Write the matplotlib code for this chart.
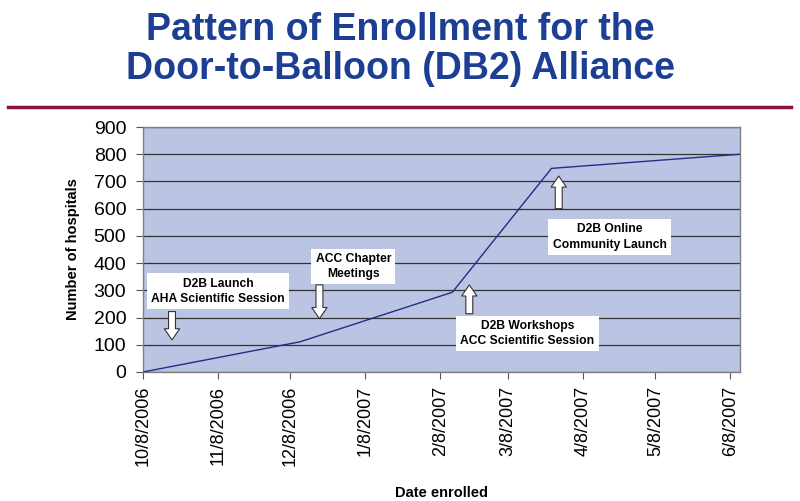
import datetime as dt

import matplotlib
matplotlib.use("Agg")
import matplotlib.pyplot as plt
import matplotlib.dates as mdates
from matplotlib.lines import Line2D
from matplotlib.patches import FancyArrowPatch

# ---------- data ----------
enroll_dates = ["2006-10-08", "2006-12-12", "2007-02-13", "2007-03-26", "2007-06-12"]
hospitals = [0, 111, 293, 748, 800]

tick_dates = ["2006-10-08", "2006-11-08", "2006-12-08", "2007-01-08", "2007-02-08",
              "2007-03-08", "2007-04-08", "2007-05-08", "2007-06-08"]
y_ticks = [0, 100, 200, 300, 400, 500, 600, 700, 800, 900]

# (label, box date, box value, arrow date, arrow tail value, arrow tip value)
events = [
    ("D2B Launch\nAHA Scientific Session", "2006-11-08", 297, "2006-10-20", 222, 118),
    ("ACC Chapter\nMeetings", "2007-01-03", 388, "2006-12-20", 320, 196),
    ("D2B Workshops\nACC Scientific Session", "2007-03-16", 141, "2007-02-20", 214, 320),
    ("D2B Online\nCommunity Launch", "2007-04-19", 496, "2007-03-29", 600, 720),
]

def _d(s):
    return dt.datetime.strptime(s, "%Y-%m-%d")

# ---------- figure ----------
plt.rcParams["font.family"] = ["Liberation Sans", "DejaVu Sans"]
fig = plt.figure(figsize=(8.0, 5.01), dpi=100)
ax = fig.add_axes([0.17875, 0.2575, 0.74625, 0.489])

title_col = "#1c3f94"
fig.text(0.5, 0.921, "Pattern of Enrollment for the", ha="center", va="baseline",
         fontsize=27, fontweight="bold", color=title_col)
fig.text(0.5, 0.843, "Door-to-Balloon (DB2) Alliance", ha="center", va="baseline",
         fontsize=27, fontweight="bold", color=title_col)
fig.add_artist(Line2D([0.01, 0.989], [0.786, 0.786], transform=fig.transFigure,
                      color="#8b1538", lw=2.5))

ax.set_facecolor("#bcc4e4")
ax.plot([_d(s) for s in enroll_dates], hospitals, color="#2a2a85", lw=1.0, zorder=3)

ax.set_xlim(_d(enroll_dates[0]), _d(enroll_dates[-1]))
ax.set_ylim(0, 900)
ax.set_yticks(y_ticks)
ax.set_xticks([_d(s) for s in tick_dates])
ax.set_xticklabels([f"{_d(s).month}/{_d(s).day}/{_d(s).year}" for s in tick_dates],
                   rotation=90, fontsize=13)
ax.tick_params(axis="y", labelsize=14, length=5, width=0.8, color="#555555", pad=7)
ax.tick_params(axis="x", length=5, width=0.8, color="#555555", pad=5)
ax.grid(axis="y", color="#333333", lw=0.9)
ax.set_axisbelow(True)
for sp in ax.spines.values():
    sp.set_color("#808080")
    sp.set_linewidth(1.0)

ax.set_ylabel("Number of hospitals", fontsize=10.5, fontweight="bold", labelpad=10)
ax.set_xlabel("Date enrolled", fontsize=10.5, fontweight="bold", labelpad=14)

for label, bx, by, axd, y0, y1 in events:
    ax.text(_d(bx), by, label, ha="center", va="center", fontsize=8.7,
            fontweight="bold", linespacing=1.35, zorder=5,
            bbox=dict(boxstyle="square,pad=0.35", fc="white", ec="none"))
    arr = FancyArrowPatch((_d(axd), y0), (_d(axd), y1),
                          arrowstyle="simple,head_length=0.8,head_width=1.1,tail_width=0.5",
                          mutation_scale=10, fc="white", ec="#333333", lw=0.8,
                          shrinkA=0, shrinkB=0, zorder=5)
    ax.add_patch(arr)

fig.savefig("out.png", dpi=100)
